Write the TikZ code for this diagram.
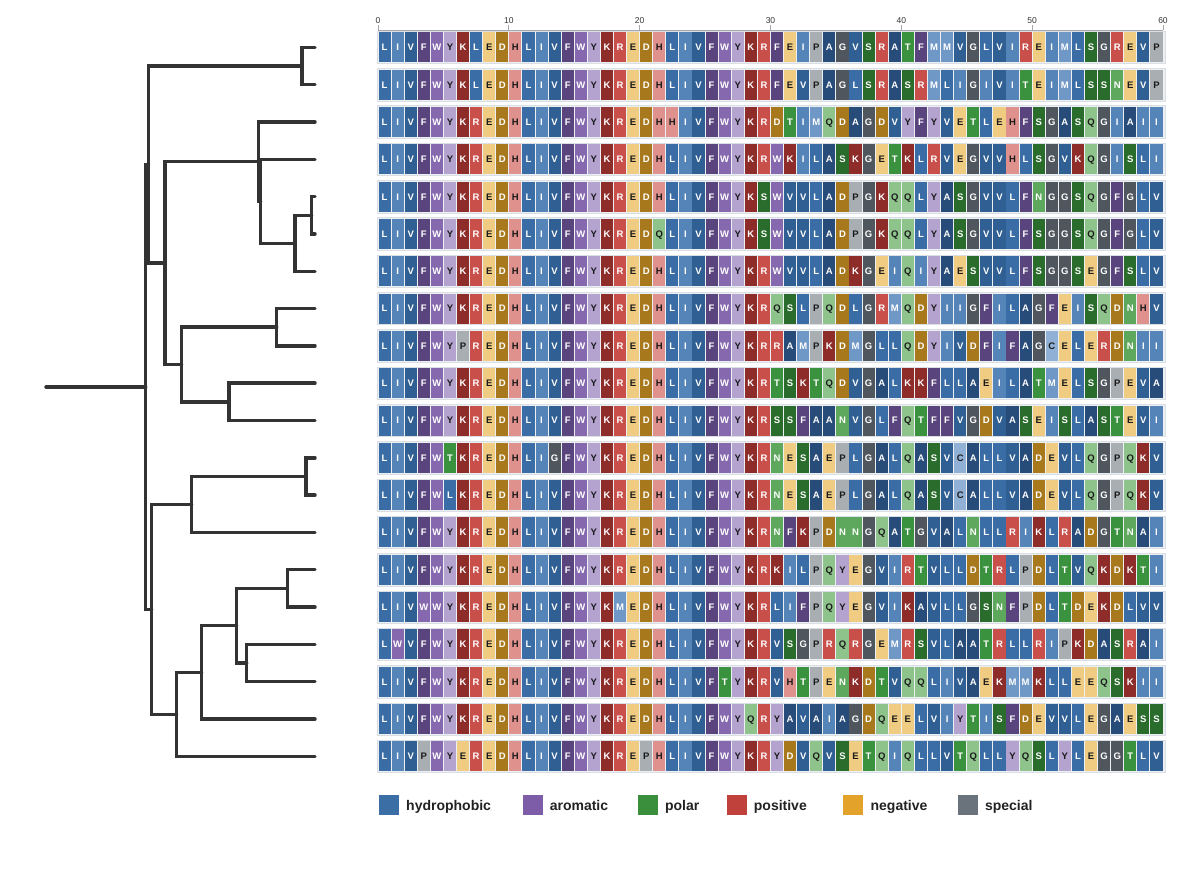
\documentclass[tikz,border=0pt]{standalone}
\usepackage{fontspec}
\setmainfont{Liberation Sans}
\usetikzlibrary{calc}
% residue colours
\definecolor{aaL}{HTML}{3A6DA6}
\definecolor{aaI}{HTML}{5484B8}
\definecolor{aaV}{HTML}{2F5F93}
\definecolor{aaA}{HTML}{284C7A}
\definecolor{aaM}{HTML}{7098C6}
\definecolor{aaC}{HTML}{90B0D6}
\definecolor{aaF}{HTML}{5A447E}
\definecolor{aaW}{HTML}{8568AD}
\definecolor{aaY}{HTML}{B4A2CF}
\definecolor{aaK}{HTML}{8E2C2A}
\definecolor{aaR}{HTML}{C84F4A}
\definecolor{aaH}{HTML}{DE918D}
\definecolor{aaE}{HTML}{F0CC82}
\definecolor{aaD}{HTML}{A8791C}
\definecolor{aaS}{HTML}{2A6C2C}
\definecolor{aaT}{HTML}{3A923E}
\definecolor{aaN}{HTML}{5EA85D}
\definecolor{aaQ}{HTML}{8EC48B}
\definecolor{aaG}{HTML}{4F565D}
\definecolor{aaP}{HTML}{A9AEB2}
\definecolor{darktext}{HTML}{1A1A1A}
\colorlet{tcL}{white}\colorlet{tcI}{white}\colorlet{tcV}{white}\colorlet{tcA}{white}
\colorlet{tcM}{white}\colorlet{tcC}{darktext}\colorlet{tcF}{white}\colorlet{tcW}{white}
\colorlet{tcY}{darktext}\colorlet{tcK}{white}\colorlet{tcR}{white}\colorlet{tcH}{darktext}
\colorlet{tcE}{darktext}\colorlet{tcD}{white}\colorlet{tcS}{white}\colorlet{tcT}{white}
\colorlet{tcN}{white}\colorlet{tcQ}{darktext}\colorlet{tcG}{white}\colorlet{tcP}{darktext}
% legend colours
\definecolor{lghydro}{HTML}{3A6EA5}
\definecolor{lgarom}{HTML}{7D5CA8}
\definecolor{lgpolar}{HTML}{3A8F3C}
\definecolor{lgpos}{HTML}{C0413B}
\definecolor{lgneg}{HTML}{E3A22A}
\definecolor{lgspec}{HTML}{6A737C}
\definecolor{treegray}{HTML}{333333}
\definecolor{rowbg}{HTML}{EDF0F3}
\definecolor{rowline}{HTML}{D9DFE5}
\definecolor{axgray}{HTML}{A8A8A8}
\definecolor{axtext}{HTML}{333333}
\definecolor{legtext}{HTML}{222222}

\tikzset{
  treeline/.style={draw=treegray, line width=3.4pt, line cap=round, line join=miter},
  cellletter/.style={font=\bfseries\fontsize{9.5}{10}\selectfont, inner sep=0pt,
                     text height=6.9pt, text depth=0pt, anchor=center},
  rowbox/.style={fill=rowbg, draw=rowline, line width=0.5pt},
  legendtxt/.style={font=\bfseries\fontsize{14}{16}\selectfont, anchor=base west,
                    inner sep=0pt, text=legtext},
  axislab/.style={font=\fontsize{8.5}{10}\selectfont, text=axtext, inner sep=0pt, anchor=south},
  axisline/.style={draw=axgray, line width=0.8pt}
}

\newcount\colidx
\newcommand\drawcell[1]{%
  \pgfmathsetmacro\cx{378.5+13.083*\the\colidx}%
  \edef\cellname{c\rowname x\the\colidx}%
  \fill[aa#1] (\cx,\rowy-15) rectangle ++(12.1,30);%
  \node[cellletter,text=tc#1] (\cellname) at (\cx+6.05,\rowy) {#1};%
  \global\advance\colidx by 1\relax}
\makeatletter
\newcommand\seqrow[3]{%
  \def\rowname{#1}\def\rowy{#2}\global\colidx=0\relax
  \path[rowbox] (377.2,#2-16.2) rectangle (1164.8,#2+16.2);%
  \@tfor\ch:=#3\do{\expandafter\drawcell\expandafter{\ch}}}
\makeatother
\newcommand\clade[3]{\draw[treeline] (#2) -- (#2 -| #1) -- (#3 -| #1) -- (#3);}

\begin{document}
\begin{tikzpicture}[x=1pt,y=-1pt]
\useasboundingbox (0,0) rectangle (1200,877);
\fill[white] (0,0) rectangle (1200,877);

% ---------- axis ----------
\coordinate (axL) at (378,30.5);
\coordinate (axR) at (1163,30.5);
\draw[axisline] (axL) -- (axR);
\foreach \k in {0,...,6}{
  \pgfmathsetmacro\tx{378+130.83*\k}
  \coordinate (tk\k) at (\tx,30.5);
  \draw[axisline] (tk\k) -- ++(0,-5.5);
  \pgfmathtruncatemacro\lab{10*\k}
  \node[axislab] (ax\k) at (\tx,24) {\lab};
}

% ---------- alignment ----------
\seqrow{1}{47.30}{LIVFWYKLEDHLIVFWYKREDHLIVFWYKRFEIPAGVSRATFMMVGLVIREIMLSGREVP}
\seqrow{2}{84.62}{LIVFWYKLEDHLIVFWYKREDHLIVFWYKRFEVPAGLSRASRMLIGIVITEIMLSSNEVP}
\seqrow{3}{121.94}{LIVFWYKREDHLIVFWYKREDHHIVFWYKRDTIMQDAGDVYFYVETLEHFSGASQGIAII}
\seqrow{4}{159.26}{LIVFWYKREDHLIVFWYKREDHLIVFWYKRWKILASKGETKLRVEGVVHLSGVKQGISLI}
\seqrow{5}{196.58}{LIVFWYKREDHLIVFWYKREDHLIVFWYKSWVVLADPGKQQLYASGVVLFNGGSQGFGLV}
\seqrow{6}{233.90}{LIVFWYKREDHLIVFWYKREDQLIVFWYKSWVVLADPGKQQLYASGVVLFSGGSQGFGLV}
\seqrow{7}{271.22}{LIVFWYKREDHLIVFWYKREDHLIVFWYKRWVVLADKGEIQIYAESVVLFSGGSEGFSLV}
\seqrow{8}{308.54}{LIVFWYKREDHLIVFWYKREDHLIVFWYKRQSLPQDLGRMQDYIIGFILAGFEISQDNHV}
\seqrow{9}{345.86}{LIVFWYPREDHLIVFWYKREDHLIVFWYKRRAMPKDMGLLQDYIVDFIFAGCELERDNII}
\seqrow{10}{383.18}{LIVFWYKREDHLIVFWYKREDHLIVFWYKRTSKTQDVGALKKFLLAEILATMELSGPEVA}
\seqrow{11}{420.50}{LIVFWYKREDHLIVFWYKREDHLIVFWYKRSSFAANVGLFQTFFVGDVASEISLASTEVI}
\seqrow{12}{457.82}{LIVFWTKREDHLIGFWYKREDHLIVFWYKRNESAEPLGALQASVCALLVADEVLQGPQKV}
\seqrow{13}{495.14}{LIVFWLKREDHLIVFWYKREDHLIVFWYKRNESAEPLGALQASVCALLVADEVLQGPQKV}
\seqrow{14}{532.46}{LIVFWYKREDHLIVFWYKREDHLIVFWYKRNFKPDNNGQATGVALNLLRIKLRADGTNAI}
\seqrow{15}{569.78}{LIVFWYKREDHLIVFWYKREDHLIVFWYKRKILPQYEGVIRTVLLDTRLPDLTVQKDKTI}
\seqrow{16}{607.10}{LIVWWYKREDHLIVFWYKMEDHLIVFWYKRLIFPQYEGVIKAVLLGSNFPDLTDEKDLVV}
\seqrow{17}{644.42}{LWVFWYKREDHLIVFWYKREDHLIVFWYKRVSGPRQRGEMRSVLAATRLLRIPKDASRAI}
\seqrow{18}{681.74}{LIVFWYKREDHLIVFWYKREDHLIVFTYKRVHTPENKDTVQQLIVAEKMMKLLEEQSKII}
\seqrow{19}{719.06}{LIVFWYKREDHLIVFWYKREDHLIVFWYQRYAVAIAGDQEELVIYTISFDEVVLEGAESS}
\seqrow{20}{756.38}{LIVPWYEREDHLIVFWYKREPHLIVFWYKRYDVQVSETQIQLLVTQLLYQSLYLEGGTLV}

% ---------- tree ----------
\foreach \i/\y in {1/47.30,2/84.62,3/121.94,4/159.26,5/196.58,6/233.90,7/271.22,
  8/308.54,9/345.86,10/383.18,11/420.50,12/457.82,13/495.14,14/532.46,
  15/569.78,16/607.10,17/644.42,18/681.74,19/719.06,20/756.38}{
  \coordinate (t\i) at (315,\y);
}
\coordinate (n12) at (302,65.96);
\coordinate (n56) at (311.7,215.24);
\coordinate (nD) at (295,243.23);
\coordinate (nEp) at (260.7,201.25);
\coordinate (nE) at (258.6,161.60);
\coordinate (n89) at (276.7,327.20);
\coordinate (n1011) at (229,401.84);
\coordinate (nG) at (181.6,364.52);
\coordinate (nF) at (165,263.06);
\coordinate (nA) at (148.3,164.51);
\coordinate (n1213) at (306,476.48);
\coordinate (nH) at (191.7,504.47);
\coordinate (n1516) at (287.3,588.44);
\coordinate (n1718) at (246.7,663.08);
\coordinate (nJ) at (236.7,625.76);
\coordinate (nK) at (201.7,672.41);
\coordinate (nL) at (176.7,714.40);
\coordinate (nM) at (151.7,609.43);
\coordinate (root) at (145.7,386.97);
\coordinate (stem) at (46,386.97);

\clade{n12}{t1}{t2}
\clade{n56}{t5}{t6}
\clade{nD}{n56}{t7}
\clade{nEp}{t4}{nD}
\clade{nE}{t3}{nEp}
\clade{n89}{t8}{t9}
\clade{n1011}{t10}{t11}
\clade{nG}{n89}{n1011}
\clade{nF}{nE}{nG}
\clade{nA}{n12}{nF}
\clade{n1213}{t12}{t13}
\clade{nH}{n1213}{t14}
\clade{n1516}{t15}{t16}
\clade{n1718}{t17}{t18}
\clade{nJ}{n1516}{n1718}
\clade{nK}{nJ}{t19}
\clade{nL}{nK}{t20}
\clade{nM}{nH}{nL}
\clade{root}{nA}{nM}
\draw[treeline] (root) -- (stem);

% ---------- legend ----------
\foreach \lx/\lc/\lt/\ln in {379/lghydro/hydrophobic/lg1, 522.6/lgarom/aromatic/lg2,
  637.9/lgpolar/polar/lg3, 726.7/lgpos/positive/lg4, 843.4/lgneg/negative/lg5,
  957.8/lgspec/special/lg6}{
  \fill[\lc] (\lx,795) rectangle ++(20,20);
  \node[legendtxt] (\ln) at (\lx+27,810) {\lt};
}
\end{tikzpicture}
\end{document}
